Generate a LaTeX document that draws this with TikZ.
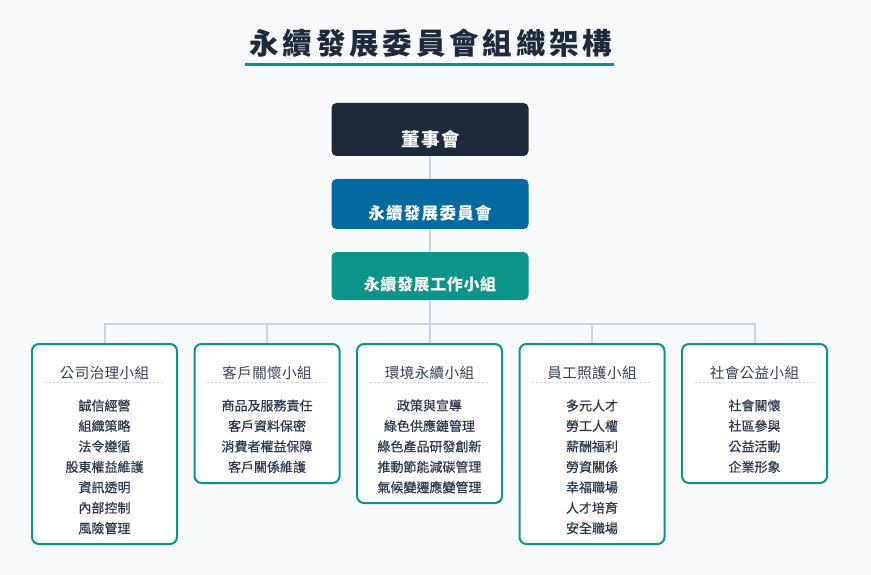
\documentclass[tikz,border=0pt]{standalone}
\usepackage{fontspec}
\newfontfamily\cjk{Noto Sans CJK TC}
\definecolor{pagebg}{HTML}{F8FAFC}
\definecolor{navy}{HTML}{1E293B}
\definecolor{ocean}{HTML}{0369A1}
\definecolor{jade}{HTML}{0D9488}
\definecolor{wire}{HTML}{CBD5E1}
\definecolor{ink}{HTML}{334155}
\begin{document}
\begin{tikzpicture}[x=1pt, y=-1pt,
    top/.style={rectangle, rounded corners=5pt, minimum width=197pt, inner sep=0pt},
    toptext/.style={text=white, inner sep=0pt},
    group/.style={draw=jade, line width=2pt, fill=white, rounded corners=7pt,
      minimum width=145pt, anchor=north, inner sep=0pt},
    head/.style={text=ink, minimum width=119pt, minimum height=19pt, inner sep=0pt,
      font={\cjk\fontsize{14.5}{17}\selectfont\addfontfeature{LetterSpace=3}},
      append after command={(\tikzlastnode.south west) edge[rule] (\tikzlastnode.south east)}},
    rule/.style={draw=wire, line width=0.8pt, dash pattern=on 2pt off 2pt},
    items/.style={text=ink!90!black, align=center, inner sep=0pt,
      font={\cjk\fontsize{13}{20.45}\selectfont\addfontfeature{FakeBold=0.6}}},
    link/.style={draw=wire, line width=2pt}]

    \fill[pagebg] (0,0) rectangle (871,575);
    \useasboundingbox (0,0) rectangle (871,575);

    \node[text=navy, inner sep=0pt,
      font={\cjk\bfseries\fontsize{29.5}{34}\selectfont\addfontfeature{LetterSpace=13}}]
      (title) at (431,43.5) {永續發展委員會組織架構};
    \draw[jade, line width=3pt] (245,64.5) -- (614,64.5);

    \node[top, fill=navy, minimum height=53pt] (board) at (430,129.5) {};
    \node[top, fill=ocean, minimum height=50pt] (esg) at (430,204) {};
    \node[top, fill=jade, minimum height=48pt] (team) at (430,276) {};
    \node[toptext, font={\cjk\bfseries\fontsize{18.5}{22}\selectfont\addfontfeature{LetterSpace=7}}]
      (boardtxt) at (430.5,139.5) {董事會};
    \node[toptext, font={\cjk\bfseries\fontsize{16.5}{20}\selectfont\addfontfeature{LetterSpace=8}}]
      (esgtxt) at (430,213.5) {永續發展委員會};
    \node[toptext, font={\cjk\bfseries\fontsize{16}{20}\selectfont\addfontfeature{LetterSpace=4}}]
      (teamtxt) at (430,284.5) {永續發展工作小組};

    \draw[link] (board) -- (esg);
    \draw[link] (esg) -- (team);

    \node[group, minimum height=200pt] (gov) at (104.5,343) {};
    \node[group, minimum height=139pt] (cust) at (267,343) {};
    \node[group, minimum height=159pt] (env) at (429.5,343) {};
    \node[group, minimum height=200pt] (staff) at (592,343) {};
    \node[group, minimum height=139pt] (soc) at (754.5,343) {};

    \coordinate (bus) at (430,324);
    \draw[link] (team) -- (bus);
    \draw[link] (bus) -| (gov);
    \draw[link] (bus) -| (cust);
    \draw[link] (bus) -- (env);
    \draw[link] (bus) -| (staff);
    \draw[link] (bus) -| (soc);

    \node[head] (govhd) at (104.5,372.5) {公司治理小組};
    \node[head] (custhd) at (267,372.5) {客戶關懷小組};
    \node[head] (envhd) at (429.5,372.5) {環境永續小組};
    \node[head] (staffhd) at (592,372.5) {員工照護小組};
    \node[head] (sochd) at (754.5,372.5) {社會公益小組};

    \node[items] (govls) at (104.5,466.9)
      {誠信經營\\組織策略\\法令遵循\\股東權益維護\\資訊透明\\內部控制\\風險管理};
    \node[items] (custls) at (267,436.2)
      {商品及服務責任\\客戶資料保密\\消費者權益保障\\客戶關係維護};
    \node[items] (envls) at (429.5,446.4)
      {政策與宣導\\綠色供應鏈管理\\綠色產品研發創新\\推動節能減碳管理\\氣候變遷應變管理};
    \node[items] (staffls) at (592,466.9)
      {多元人才\\勞工人權\\薪酬福利\\勞資關係\\幸福職場\\人才培育\\安全職場};
    \node[items] (socls) at (754.5,436.2)
      {社會關懷\\社區參與\\公益活動\\企業形象};

\end{tikzpicture}
\end{document}
